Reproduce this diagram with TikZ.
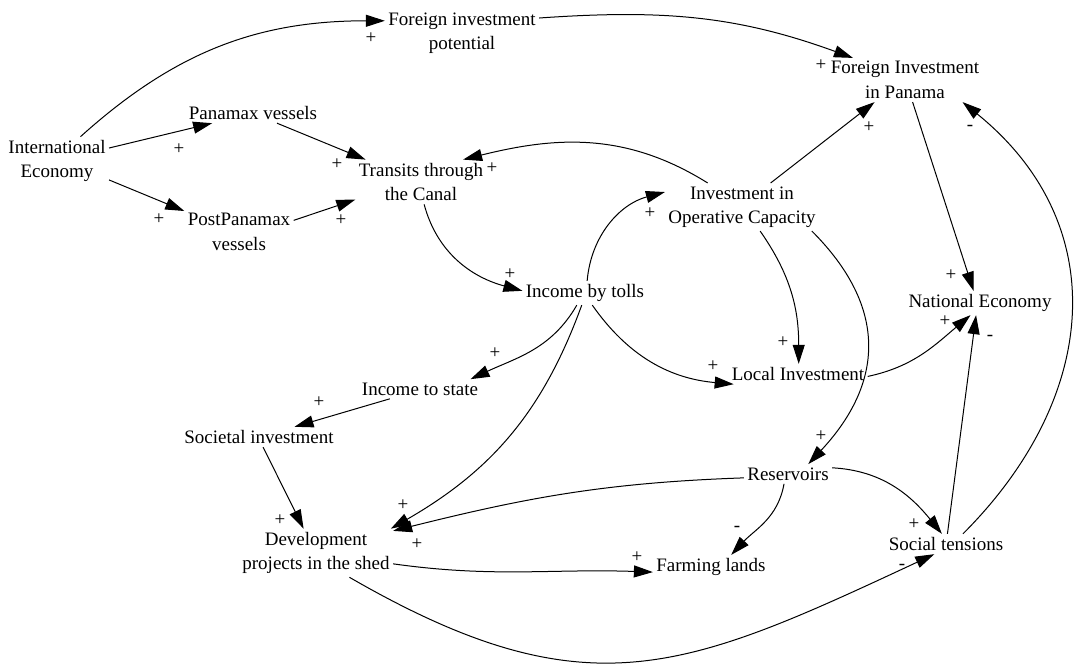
\documentclass[tikz,border=0pt]{standalone}
\usepackage{fontspec}
\setmainfont{Liberation Serif}
\newfontfamily\cldfont{Liberation Serif}
\usetikzlibrary{arrows.meta}

\begin{document}
\begin{tikzpicture}[x=0.5pt, y=0.5pt, line width=0.5pt, every node/.style={font=\cldfont\fontsize{9.5}{12.2}\selectfont}, >={Triangle[length=9.5pt,width=6pt]}, var/.style={align=center, inner sep=1.5pt}, sgn/.style={inner sep=0pt}]
	\useasboundingbox (0,0) rectangle (1081,-664);
	% variables
	\node[var] (intl) at (57,-161) {International\\Economy};
	\node[var] (fip) at (462,-33) {Foreign investment\\potential};
	\node[var] (panamax) at (253,-113) {Panamax vessels};
	\node[var] (post) at (239,-232) {PostPanamax\\vessels};
	\node[var] (transits) at (421,-182) {Transits through\\the Canal};
	\node[var] (fipan) at (905,-80) {Foreign Investment\\in Panama};
	\node[var] (ioc) at (742,-207) {Investment in\\Operative Capacity};
	\node[var] (tolls) at (585,-293) {Income by tolls};
	\node[var] (nat) at (980,-303) {National Economy};
	\node[var] (local) at (798,-374) {Local Investment};
	\node[var] (state) at (420,-389) {Income to state};
	\node[var] (societal) at (259,-437) {Societal investment};
	\node[var] (res) at (788,-474) {Reservoirs};
	\node[var] (dev) at (316,-553) {Development\\projects in the shed};
	\node[var] (farm) at (711,-567) {Farming lands};
	\node[var] (social) at (946,-544) {Social tensions};
	% links
	\draw[->] (intl.46) to[out=42, in=180] (fip.171);
	\draw[->] (intl.14) -- (panamax.194);
	\draw[->] (intl.-20) -- (post.159);
	\draw[->] (panamax.-23) -- (transits.158);
	\draw[->] (post.12) -- (transits.195);
	\draw[->] (fip.11) to[out=4, in=160] (fipan.157);
	\draw[->] (ioc.145) to[out=148, in=14] (transits.28);
	\draw[->] (ioc.40) -- (fipan.216);
	\draw[->] (transits.-82) to[out=-75, in=165] (tolls.178);
	\draw[->] (tolls.80) to[out=85, in=195] (ioc.169);
	\draw[->] (ioc.-53) to[out=-55, in=90] (local.86);
	\draw[->] (ioc.-19) to[out=-45, in=47, looseness=1.2] (res.26);
	\draw[->] (tolls.-59) to[out=-55, in=175] (local.189);
	\draw[->] (tolls.236) to[out=240, in=25] (state.11);
	\draw[->] (tolls.255) to[out=250, in=30] (dev.18);
	\draw[->] (state.198) -- (societal.16);
	\draw[->] (societal.-68) -- (dev.117);
	\draw[->] (res.185) to[out=182, in=14] (dev.16);
	\draw[->] (res.248) to[out=260, in=47] (farm.31);
	\draw[->] (res.8) to[out=-3, in=129] (social.112);
	\draw[->] (dev.-8) to[out=-8, in=178] (farm.185);
	\draw[->] (dev.-36) to[out=-30, in=205, looseness=1.2] (social.221);
	\draw[->] (local.-2) to[out=12, in=220] (nat.232);
	\draw[->] (fipan.-71) -- (nat.118);
	\draw[->] (social.82) -- (nat.252);
	\draw[->] (social.31) to[out=45, in=-39, looseness=1.15] (fipan.-21);
	% polarities
	\node[sgn] (s1) at (371,-38) {+}; \node[sgn] (s2) at (179,-149) {+}; \node[sgn] (s3) at (159,-219) {+};
	\node[sgn] (s4) at (337,-164) {+}; \node[sgn] (s5) at (341,-220) {+}; \node[sgn] (s6) at (821,-65) {+};
	\node[sgn] (s7) at (492,-168) {+}; \node[sgn] (s8) at (869,-127) {+}; \node[sgn] (s9) at (510,-274) {+};
	\node[sgn] (s10) at (650,-213) {+}; \node[sgn] (s11) at (783,-342) {+}; \node[sgn] (s12) at (821,-436) {+};
	\node[sgn] (s13) at (713,-366) {+}; \node[sgn] (s14) at (495,-353) {+}; \node[sgn] (s15) at (319,-402) {+};
	\node[sgn] (s16) at (280,-520) {+}; \node[sgn] (s17) at (403,-505) {+}; \node[sgn] (s18) at (417,-544) {+};
	\node[sgn] (s19) at (737,-529) {-}; \node[sgn] (s20) at (637,-557) {+}; \node[sgn] (s21) at (914,-524) {+};
	\node[sgn] (s22) at (902,-567) {-}; \node[sgn] (s23) at (945,-321) {+}; \node[sgn] (s24) at (951,-275) {+};
	\node[sgn] (s25) at (990,-338) {-}; \node[sgn] (s26) at (970,-128) {-};
\end{tikzpicture}
\end{document}
